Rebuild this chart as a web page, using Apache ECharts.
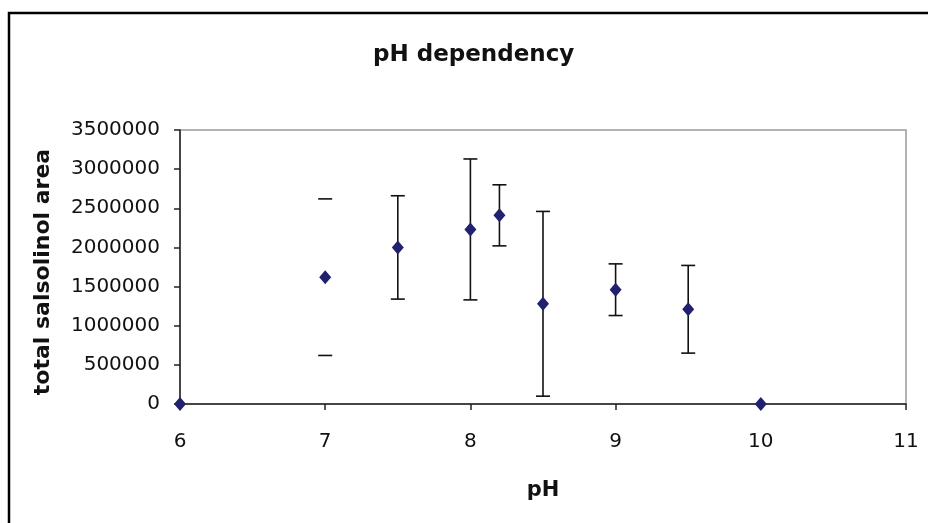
<!DOCTYPE html>
<html>
<head>
<meta charset="utf-8">
<script src="https://cdn.jsdelivr.net/npm/echarts@6/dist/echarts.min.js"></script>
<style>
  html, body { margin: 0; padding: 0; background: #fff; }
  #chart { width: 928px; height: 523px; }
</style>
</head>
<body>
<div id="chart"></div>
<script>
// pH values and measured total salsolinol peak area
const phValues = [6, 7, 7.5, 8, 8.2, 8.5, 9, 9.5, 10];
const areaValues = [0, 1620000, 2000000, 2230000, 2410000, 1280000, 1460000, 1210000, 0];
// symmetric error (± amount) for each point
const areaError = [0, 1000000, 660000, 900000, 390000, 1180000, 330000, 560000, 0];
// whether the vertical stem of each error bar is drawn
const stemDrawn = [false, false, true, true, true, true, true, true, false];

const xTicks = [6, 7, 8, 9, 10, 11];
const yTicks = [0, 500000, 1000000, 1500000, 2000000, 2500000, 3000000, 3500000];

const FONT = '"DejaVu Sans", "Liberation Sans", Arial, sans-serif';
const INK = '#111';
const MARK = '#212170';

const chart = echarts.init(document.getElementById('chart'));

const pointData = phValues.map((x, i) => [x, areaValues[i]]);
const errData = phValues
  .map((x, i) => [x, areaValues[i] - areaError[i], areaValues[i] + areaError[i], stemDrawn[i] ? 1 : 0])
  .filter((d, i) => areaError[i] > 0);

chart.setOption({
  animation: false,
  backgroundColor: '#fff',
  title: {
    text: 'pH dependency',
    left: 368,
    top: 39,
    textStyle: { fontFamily: FONT, fontWeight: 'bold', fontSize: 23, color: INK }
  },
  graphic: [{
    type: 'rect',
    shape: { x: 9, y: 13, width: 940, height: 540 },
    style: { fill: 'none', stroke: '#000', lineWidth: 2.5 },
    silent: true
  }],
  grid: {
    left: 180, right: 22, top: 130, bottom: 119,
    show: true, borderColor: '#9a9a9a', borderWidth: 1.5,
    containLabel: false
  },
  xAxis: {
    type: 'value',
    min: 6, max: 11, interval: 1,
    name: 'pH',
    nameLocation: 'middle',
    nameGap: 76,
    nameTextStyle: { fontFamily: FONT, fontWeight: 'bold', fontSize: 21, color: INK },
    axisLine: { show: true, lineStyle: { color: '#222', width: 1.5 } },
    axisTick: { show: true, inside: false, length: 6, lineStyle: { color: '#222', width: 1.5 } },
    axisLabel: {
      fontFamily: FONT, fontSize: 20, color: INK, margin: 28,
      formatter: v => (xTicks.includes(v) ? String(v) : '')
    },
    splitLine: { show: false }
  },
  yAxis: {
    type: 'value',
    min: 0, max: 3500000, interval: 500000,
    name: 'total salsolinol area',
    nameLocation: 'middle',
    nameGap: 126,
    nameRotate: 90,
    nameTextStyle: { fontFamily: FONT, fontWeight: 'bold', fontSize: 22, color: INK, padding: [0, 10, 0, 0] },
    axisLine: { show: true, lineStyle: { color: '#222', width: 1.5 } },
    axisTick: { show: true, inside: false, length: 6, lineStyle: { color: '#222', width: 1.5 } },
    axisLabel: {
      fontFamily: FONT, fontSize: 20, color: INK, margin: 20,
      formatter: v => (yTicks.includes(v) ? String(v) : '')
    },
    splitLine: { show: false }
  },
  series: [
    {
      type: 'custom',
      name: 'error',
      data: errData,
      z: 2,
      renderItem: function (params, api) {
        const x = api.value(0);
        const lo = api.coord([x, api.value(1)]);
        const hi = api.coord([x, api.value(2)]);
        const half = 7;
        const children = [
          { type: 'line', shape: { x1: hi[0] - half, y1: hi[1], x2: hi[0] + half, y2: hi[1] },
            style: { stroke: '#111', lineWidth: 1.6 } },
          { type: 'line', shape: { x1: lo[0] - half, y1: lo[1], x2: lo[0] + half, y2: lo[1] },
            style: { stroke: '#111', lineWidth: 1.6 } }
        ];
        if (api.value(3)) {
          children.push({ type: 'line', shape: { x1: hi[0], y1: hi[1], x2: lo[0], y2: lo[1] },
            style: { stroke: '#111', lineWidth: 1.6 } });
        }
        return { type: 'group', children: children };
      }
    },
    {
      type: 'scatter',
      name: 'area',
      data: pointData,
      symbol: 'diamond',
      symbolSize: [12, 14],
      itemStyle: { color: MARK, opacity: 1 },
      z: 3,
      clip: false
    }
  ]
});
</script>
</body>
</html>
